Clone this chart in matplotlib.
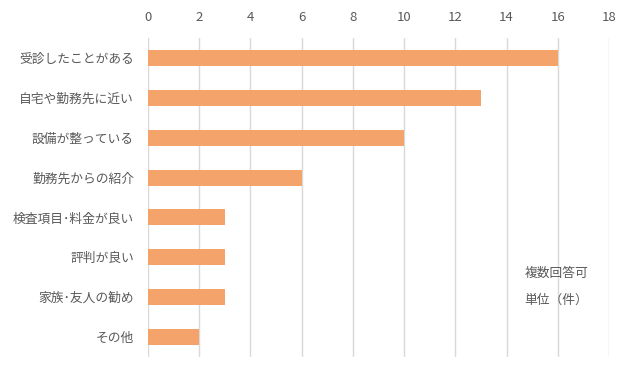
import matplotlib.pyplot as plt

plt.rcParams['font.family'] = ['Noto Sans CJK JP', 'DejaVu Sans']

# データ
categories = ['受診したことがある', '自宅や勤務先に近い', '設備が整っている', '勤務先からの紹介',
              '検査項目･料金が良い', '評判が良い', '家族･友人の勧め', 'その他']
counts = [16, 13, 10, 6, 3, 3, 3, 2]
xticks = list(range(0, 19, 2))

fig = plt.figure(figsize=(6.32, 3.71), dpi=100)
ax = fig.add_axes([0.234, 0.0377, 0.7296, 0.86])

ypos = range(len(categories))
ax.barh(ypos, counts, height=0.4, color='#F4A46A', zorder=2)
ax.set_ylim(len(categories) - 0.5, -0.5)
ax.set_xlim(0, 18)
ax.set_xticks(xticks)
ax.set_yticks(list(ypos))
ax.set_yticklabels(categories)

ax.xaxis.tick_top()
ax.tick_params(axis='x', length=0, pad=10, labelsize=9.5, colors='#595959')
ax.tick_params(axis='y', length=0, pad=10, labelsize=9.2, colors='#595959')
ax.grid(axis='x', color='#D9D9D9', linewidth=1, zorder=0)
for s in ax.spines.values():
    s.set_visible(False)

# 注記
ax.text(14.7, 5.41, '複数回答可', fontsize=9.2, color='#595959', va='center')
ax.text(14.7, 6.07, '単位（件）', fontsize=9.2, color='#595959', va='center')

fig.savefig('out.png', dpi=100)
